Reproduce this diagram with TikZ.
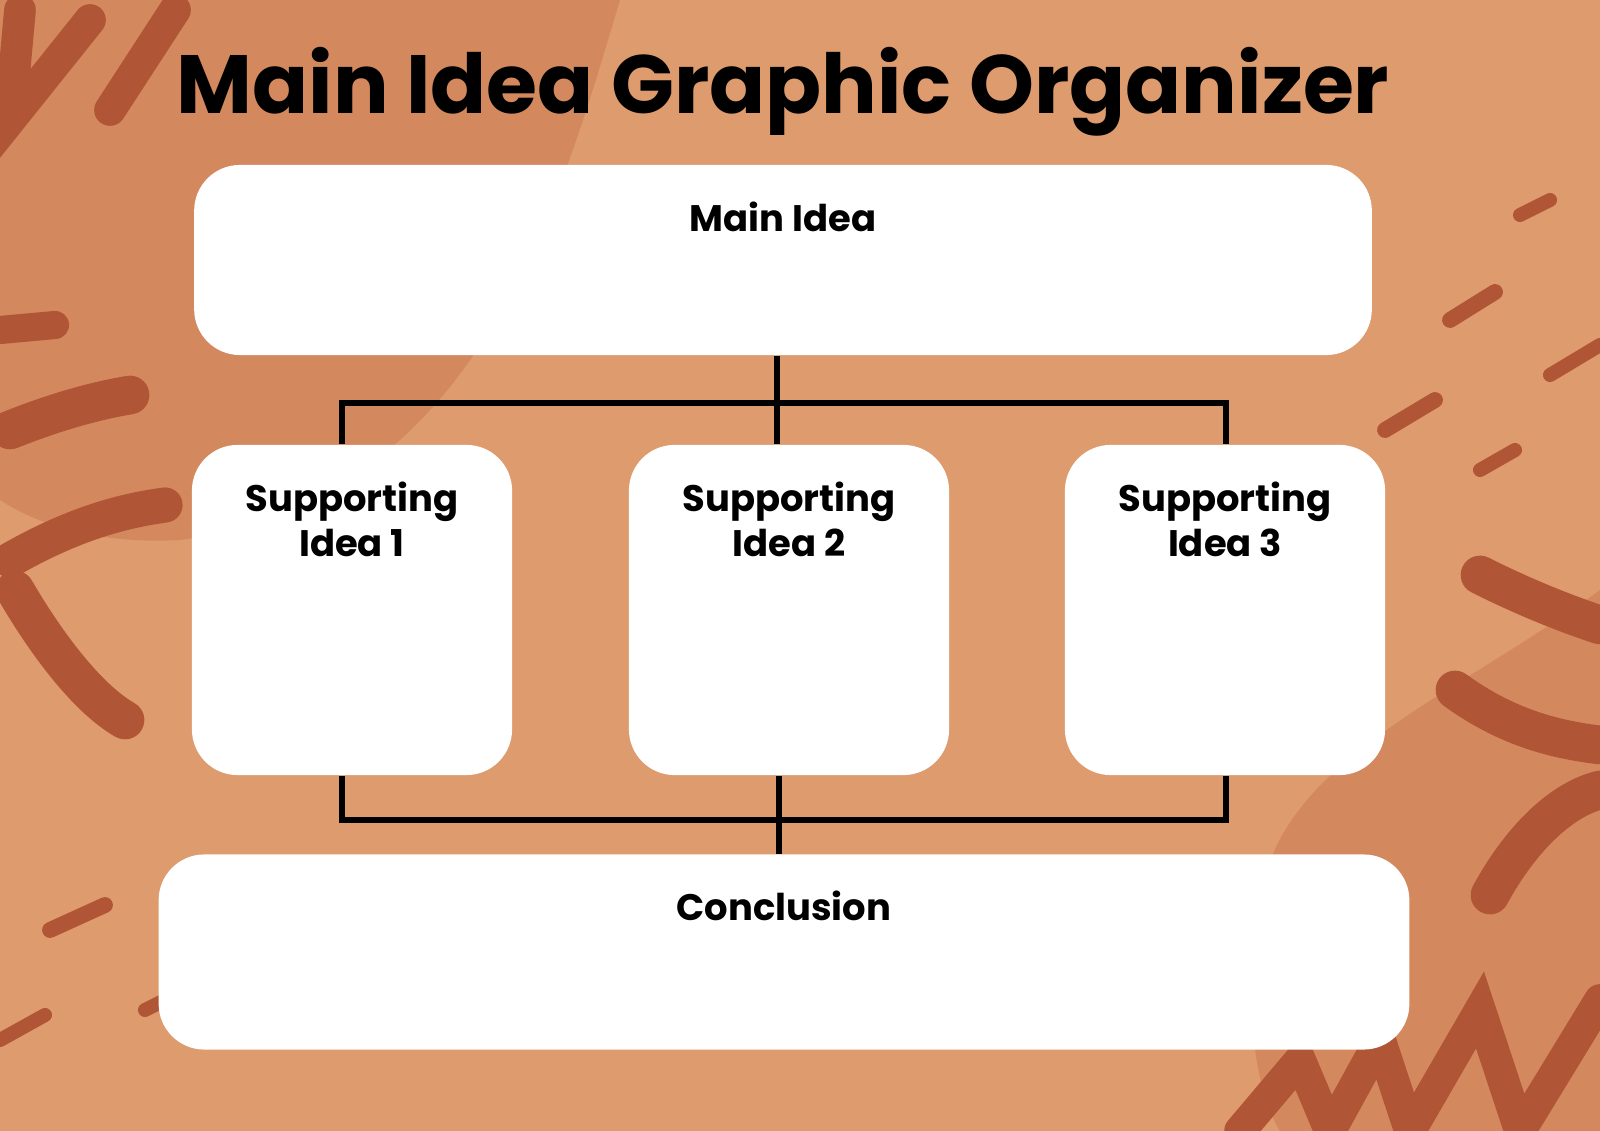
\documentclass[tikz,border=0pt]{standalone}
\usepackage{fontspec}
\setmainfont{Poppins}
\usetikzlibrary{positioning}
\definecolor{bgtan}{HTML}{DE9B6E}
\definecolor{blobtan}{HTML}{D3895D}
\definecolor{brush}{HTML}{B05535}
\tikzset{
  board/.style={fill=white, draw=none, rounded corners=13pt, inner sep=0pt},
  boxtext/.style={font=\bfseries\fontsize{10.5}{13}\selectfont, align=center},
  link/.style={draw=black, line width=1.5pt},
  stroke/.style={draw=brush, line width=#1, line cap=round}
}
\begin{document}
\begin{tikzpicture}[x=0.01cm,y=-0.01cm]
\useasboundingbox (0,0) rectangle (1600,1131);
\fill[bgtan] (0,0) rectangle (1600,1131);
% background shapes
\fill[blobtan] (0,0) -- (620,0) .. controls (560,200) and (480,500) .. (180,540)
  .. controls (90,545) and (30,520) .. (0,500) -- cycle;
\fill[blobtan] (1600,590) .. controls (1450,700) and (1280,760) .. (1260,900)
  .. controls (1240,1020) and (1260,1100) .. (1280,1131) -- (1600,1131) -- cycle;
\draw[stroke=9pt] (20,10) -- (10,120) -- (90,20);
\draw[stroke=9pt] (110,110) -- (175,10);
\draw[stroke=8pt] (0,330) -- (55,325);
\draw[stroke=11pt] (10,430) .. controls (60,410) and (100,400) .. (130,395);
\draw[stroke=10pt] (10,560) .. controls (80,520) and (130,510) .. (165,505);
\draw[stroke=11pt] (15,590) .. controls (50,650) and (90,700) .. (125,720);
\draw[stroke=4.5pt] (50,930) -- (105,905);
\draw[stroke=4pt] (145,1010) -- (185,990);
\draw[stroke=4pt] (0,1040) -- (45,1015);
\draw[stroke=4pt] (1520,215) -- (1550,200);
\draw[stroke=4.5pt] (1450,320) -- (1495,292);
\draw[stroke=4.5pt] (1385,430) -- (1435,400);
\draw[stroke=4pt] (1480,470) -- (1515,450);
\draw[stroke=4pt] (1550,375) -- (1600,345);
\draw[stroke=11pt] (1480,575) .. controls (1530,600) and (1570,615) .. (1600,625);
\draw[stroke=11pt] (1455,690) .. controls (1510,730) and (1560,740) .. (1600,745);
\draw[stroke=11pt] (1490,895) .. controls (1520,840) and (1560,800) .. (1600,790);
\draw[stroke=9pt] (1240,1131) -- (1300,1060) -- (1330,1131) -- (1380,1040) -- (1410,1131)
  -- (1480,1010) -- (1520,1131) -- (1600,1000);
% title
\node[font=\bfseries\fontsize{23.5}{26}\selectfont] (title) at (783,92) {Main Idea Graphic Organizer};
% boards
\node[board, minimum width=11.77cm, minimum height=1.9cm] (main) at (783,260) {};
\node[board, minimum width=3.2cm, minimum height=3.3cm] (sup1) at (352,610) {};
\node[board, minimum width=3.2cm, minimum height=3.3cm] (sup2) at (789,610) {};
\node[board, minimum width=3.2cm, minimum height=3.3cm] (sup3) at (1225,610) {};
\node[board, minimum width=12.5cm, minimum height=1.95cm] (concl) at (784,952) {};
% labels
\node[boxtext, below=0.25cm of main.north] (mainlbl) {Main Idea};
\node[boxtext, below=0.25cm of sup1.north] (sup1lbl) {Supporting\\Idea 1};
\node[boxtext, below=0.25cm of sup2.north] (sup2lbl) {Supporting\\Idea 2};
\node[boxtext, below=0.25cm of sup3.north] (sup3lbl) {Supporting\\Idea 3};
\node[boxtext, below=0.25cm of concl.north] (concllbl) {Conclusion};
% connectors
\coordinate (topbar) at (777,403);
\coordinate (botbar) at (779,820);
\draw[link] (main.south -| topbar) -- (topbar);
\draw[link] (sup1.north -| 342,0) |- (topbar) -| (sup3.north -| 1226,0);
\draw[link] (topbar) -- (sup2.north -| topbar);
\draw[link] (sup1.south -| 342,0) |- (botbar) -| (sup3.south -| 1226,0);
\draw[link] (sup2.south -| botbar) -- (concl.north -| botbar);
\end{tikzpicture}
\end{document}
